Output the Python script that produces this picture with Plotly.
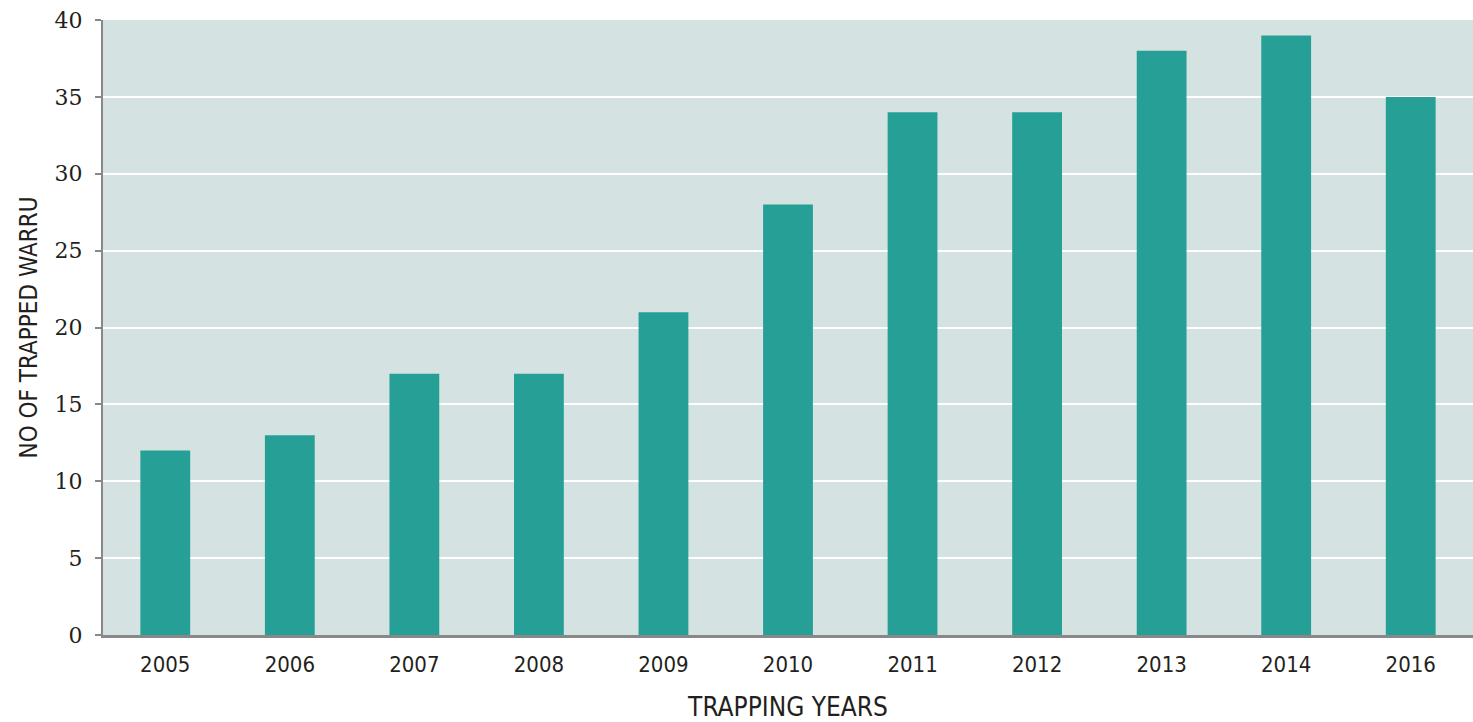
import plotly.graph_objects as go

years = ["2005", "2006", "2007", "2008", "2009", "2010", "2011", "2012", "2013", "2014", "2016"]
warru = [12, 13, 17, 17, 21, 28, 34, 34, 38, 39, 35]
y_ticks = [0, 5, 10, 15, 20, 25, 30, 35, 40]

cond = "Liberation Sans Narrow, DejaVu Sans Condensed, Roboto, sans-serif"

fig = go.Figure(go.Bar(
    x=years, y=warru, width=0.4,
    marker=dict(color="#26A096", line=dict(width=0)),
))

fig.update_layout(
    width=1473, height=722,
    margin=dict(l=103, r=0, t=20, b=87),
    plot_bgcolor="#D4E2E1", paper_bgcolor="white",
    showlegend=False,
    bargap=0.6,
)
fig.update_xaxes(
    type="category", automargin=False,
    showline=True, linecolor="#888888", linewidth=3,
    ticks="", tickfont=dict(family=cond, size=22, color="#231F20"),
    ticklabelstandoff=8,
    title=dict(text="TRAPPING YEARS", font=dict(family=cond, size=26, color="#231F20"), standoff=22),
)
fig.update_yaxes(
    range=[0, 40], tickvals=y_ticks, automargin=False,
    showline=True, linecolor="#888888", linewidth=2,
    ticks="outside", ticklen=6, tickcolor="#888888", tickwidth=2,
    gridcolor="white", gridwidth=2, zeroline=False,
    ticklabelstandoff=8,
    tickfont=dict(family="DejaVu Serif, Liberation Serif, serif", size=22, color="#231F20"),
    title=dict(text="NO OF TRAPPED WARRU", font=dict(family=cond, size=24, color="#231F20"), standoff=10),
)

fig.write_html(
    "out.html",
    config={"displayModeBar": False},
    post_script="document.body.style.margin='0';document.body.style.overflow='hidden';",
)
